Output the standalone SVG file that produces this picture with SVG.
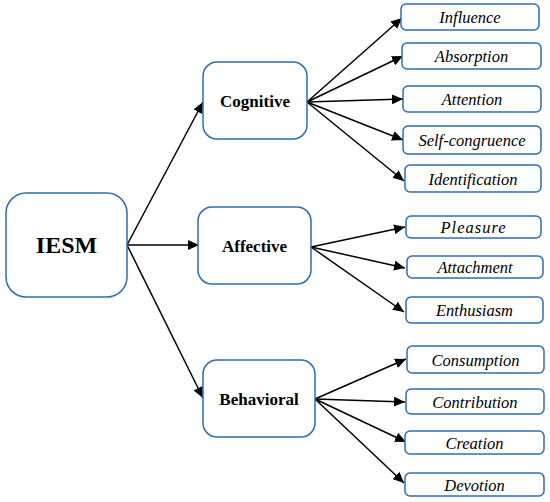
<svg xmlns="http://www.w3.org/2000/svg" width="550" height="502" viewBox="0 0 550 502">
<style>
.box{fill:#fff;stroke:#2e6db4;stroke-width:1.5}
.main{font-weight:bold;font-size:24px;text-anchor:middle}
.mid{font-weight:bold;font-size:17px;text-anchor:middle}
.leaf{font-style:italic;font-size:16.5px;text-anchor:middle}
.c{stroke:#000;stroke-width:1.5;fill:none;marker-end:url(#ah)}
</style>
<defs>
<marker id="ah" markerUnits="userSpaceOnUse" markerWidth="12" markerHeight="10" refX="11" refY="5" orient="auto">
<path d="M0,0 L11,5 L0,10 Z" fill="#000"/>
</marker>
</defs>
<rect width="550" height="502" fill="#fff"/>
<g id="connectors">
<line class="c" x1="127" y1="245" x2="203" y2="102"/>
<line class="c" x1="127" y1="245" x2="199" y2="245"/>
<line class="c" x1="127" y1="245" x2="203" y2="398"/>
<line class="c" x1="307" y1="102" x2="402" y2="18"/>
<line class="c" x1="307" y1="102" x2="403" y2="56"/>
<line class="c" x1="307" y1="102" x2="403" y2="99"/>
<line class="c" x1="307" y1="102" x2="403" y2="140"/>
<line class="c" x1="307" y1="102" x2="404" y2="181"/>
<line class="c" x1="311" y1="247" x2="405" y2="227"/>
<line class="c" x1="311" y1="247" x2="405" y2="268"/>
<line class="c" x1="311" y1="247" x2="404" y2="312"/>
<line class="c" x1="315" y1="399" x2="406" y2="359"/>
<line class="c" x1="315" y1="399" x2="405" y2="402"/>
<line class="c" x1="315" y1="399" x2="406" y2="442"/>
<line class="c" x1="315" y1="399" x2="404" y2="483"/>
</g>
<g id="IESM"><rect class="box" x="6" y="193" width="121" height="104" rx="20"/><text class="main" font-family="Liberation Serif" x="66.5" y="253">IESM</text></g>
<g id="Cognitive"><rect class="box" x="203" y="62" width="104" height="77" rx="14"/><text class="mid" font-family="Liberation Serif" x="255" y="106.5">Cognitive</text></g>
<g id="Affective"><rect class="box" x="198" y="207" width="113" height="77" rx="14"/><text class="mid" font-family="Liberation Serif" x="254.5" y="251.5">Affective</text></g>
<g id="Behavioral"><rect class="box" x="203" y="360" width="112" height="77" rx="14"/><text class="mid" font-family="Liberation Serif" x="259" y="404.5">Behavioral</text></g>
<g id="Influence"><rect class="box" x="401" y="4" width="138" height="26" rx="5"/><text class="leaf" font-family="Liberation Serif" x="470" y="23">Influence</text></g>
<g id="Absorption"><rect class="box" x="402" y="43" width="139" height="26" rx="5"/><text class="leaf" font-family="Liberation Serif" x="471.5" y="62">Absorption</text></g>
<g id="Attention"><rect class="box" x="403" y="86" width="138" height="26" rx="5"/><text class="leaf" font-family="Liberation Serif" x="472" y="105">Attention</text></g>
<g id="Self-congruence"><rect class="box" x="403" y="126" width="138" height="28" rx="5"/><text class="leaf" font-family="Liberation Serif" x="472" y="146">Self-congruence</text></g>
<g id="Identification"><rect class="box" x="405" y="165" width="136" height="27" rx="5"/><text class="leaf" font-family="Liberation Serif" x="473" y="184.5">Identification</text></g>
<g id="Pleasure"><rect class="box" x="406" y="216" width="135" height="22" rx="5"/><text class="leaf" font-family="Liberation Serif" x="473.5" y="233" letter-spacing="1">Pleasure</text></g>
<g id="Attachment"><rect class="box" x="407" y="256" width="136" height="22" rx="5"/><text class="leaf" font-family="Liberation Serif" x="475" y="273">Attachment</text></g>
<g id="Enthusiasm"><rect class="box" x="406" y="297" width="137" height="26" rx="5"/><text class="leaf" font-family="Liberation Serif" x="474.5" y="316">Enthusiasm</text></g>
<g id="Consumption"><rect class="box" x="407" y="346" width="137" height="27" rx="5"/><text class="leaf" font-family="Liberation Serif" x="475.5" y="365.5">Consumption</text></g>
<g id="Contribution"><rect class="box" x="406" y="389" width="138" height="25" rx="5"/><text class="leaf" font-family="Liberation Serif" x="475" y="407.5">Contribution</text></g>
<g id="Creation"><rect class="box" x="405" y="431" width="139" height="23" rx="5"/><text class="leaf" font-family="Liberation Serif" x="474.5" y="448.5">Creation</text></g>
<g id="Devotion"><rect class="box" x="405" y="473" width="139" height="23" rx="5"/><text class="leaf" font-family="Liberation Serif" x="474.5" y="490.5">Devotion</text></g>
</svg>
